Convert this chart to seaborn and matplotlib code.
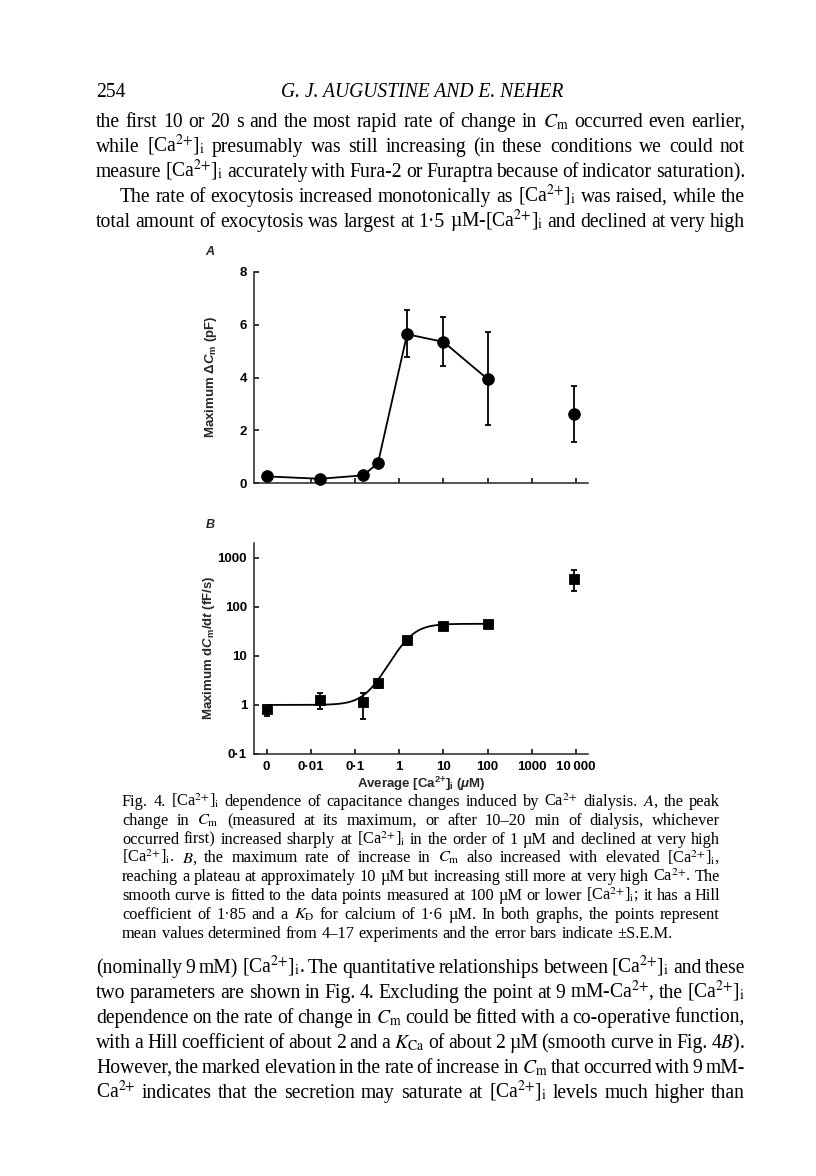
import numpy as np
import pandas as pd
import seaborn as sns
import matplotlib.pyplot as plt

# [Ca2+]i in uM; 0 is drawn at the 0.001 tick position
conc = [0, 0.016, 0.155, 0.33, 1.5, 10, 100, 9000]
tick_pos = [1e-3, 1e-2, 1e-1, 1, 10, 100, 1000, 1e4]
tick_labels = ['0', '0·01', '0·1', '1', '10', '100', '1000', '10\u2009000']

# panel A: maximum delta Cm (pF)
dcm_mean = [0.25, 0.16, 0.29, 0.76, 5.64, 5.35, 3.94, 2.62]
dcm_hi = [np.nan, np.nan, np.nan, np.nan, 6.55, 6.30, 5.74, 3.69]
dcm_lo = [np.nan, np.nan, np.nan, np.nan, 4.76, 4.45, 2.20, 1.55]

# panel B: maximum dCm/dt (fF/s)
rate_mean = [0.83, 1.26, 1.17, 2.76, 21, 41, 45, 372]
rate_hi = [0.95, 1.72, 1.78, 3.2, np.nan, np.nan, np.nan, 560]
rate_lo = [0.60, 0.82, 0.52, 2.2, np.nan, np.nan, np.nan, 209]

# Hill fit from the legend (points <= 100 uM)
hill_n = 1.85
hill_kd = 1.6
rate_base = 1.0
rate_top = 45.0

CA = "[Ca$^{2{+}}$]$_\\mathrm{i}$"
top_lines = [
    "the first 10 or 20 s and the most rapid rate of change in $C_\\mathrm{m}$ occurred even earlier,",
    f"while {CA} presumably was still increasing (in these conditions we could not",
    f"measure {CA} accurately with Fura-2 or Furaptra because of indicator saturation).",
    f"The rate of exocytosis increased monotonically as {CA} was raised, while the",
    f"total amount of exocytosis was largest at 1·5 µM-{CA} and declined at very high",
]
caption_lines = [
    f"Fig. 4. {CA} dependence of capacitance changes induced by Ca$^{{2{{+}}}}$ dialysis. $A$, the peak",
    "change in $C_\\mathrm{m}$ (measured at its maximum, or after 10–20 min of dialysis, whichever",
    f"occurred first) increased sharply at {CA} in the order of 1 µM and declined at very high",
    f"{CA}. $B$, the maximum rate of increase in $C_\\mathrm{{m}}$ also increased with elevated {CA},",
    "reaching a plateau at approximately 10 µM but increasing still more at very high Ca$^{2{+}}$. The",
    f"smooth curve is fitted to the data points measured at 100 µM or lower {CA}; it has a Hill",
    "coefficient of 1·85 and a $K_\\mathrm{D}$ for calcium of 1·6 µM. In both graphs, the points represent",
    "mean values determined from 4–17 experiments and the error bars indicate ±S.E.M.",
]
bottom_lines = [
    f"(nominally 9 mM) {CA}. The quantitative relationships between {CA} and these",
    f"two parameters are shown in Fig. 4. Excluding the point at 9 mM-Ca$^{{2{{+}}}}$, the {CA}",
    "dependence on the rate of change in $C_\\mathrm{m}$ could be fitted with a co-operative function,",
    "with a Hill coefficient of about 2 and a $K_\\mathrm{Ca}$ of about 2 µM (smooth curve in Fig. 4$B$).",
    "However, the marked elevation in the rate of increase in $C_\\mathrm{m}$ that occurred with 9 mM-",
    f"Ca$^{{2{{+}}}}$ indicates that the secretion may saturate at {CA} levels much higher than",
]

sns.set_style('ticks')
plt.rcParams['font.family'] = ['Liberation Sans', 'DejaVu Sans']
plt.rcParams['mathtext.fontset'] = 'custom'
plt.rcParams['mathtext.rm'] = 'Liberation Sans:bold'
plt.rcParams['mathtext.it'] = 'Liberation Sans:bold:italic'
plt.rcParams['mathtext.bf'] = 'Liberation Sans:bold'
plt.rcParams['axes.linewidth'] = 1.1

W, H = 816, 1176
fig = plt.figure(figsize=(W / 100, H / 100), dpi=100)
fig.patch.set_facecolor('white')


def fx(x):
    return x / W


def fy(y):
    return 1 - y / H


xplot = np.where(np.array(conc) == 0, 1e-3, conc)
xlim = (10 ** -3.287, 10 ** 4.27)

df = pd.DataFrame({'conc': xplot, 'dcm': dcm_mean, 'rate': rate_mean})

axA = fig.add_axes([fx(254), fy(483), fx(334), 211 / H])
axB = fig.add_axes([fx(254), fy(754), fx(334), 211 / H])

# ---- panel A
sns.lineplot(data=df.iloc[:7], x='conc', y='dcm', color='black', lw=1.3, ax=axA)
axA.errorbar(xplot, dcm_mean,
             yerr=[np.array(dcm_mean) - np.array(dcm_lo), np.array(dcm_hi) - np.array(dcm_mean)],
             fmt='none', ecolor='black', elinewidth=1.3, capsize=2.5, capthick=1.3)
sns.scatterplot(data=df, x='conc', y='dcm', marker='o', s=70, color='black',
                edgecolor='black', ax=axA, zorder=4, clip_on=False)
axA.set_xscale('log')
axA.set_xlim(*xlim)
axA.set_ylim(0, 8)
axA.set_xticks(tick_pos)
axA.set_xticklabels([])
axA.set_yticks([0, 2, 4, 6, 8])
axA.set_yticklabels(['0', '2', '4', '6', '8'], fontweight='bold')

# ---- panel B
xs = np.logspace(-3, 2, 300)
fit = rate_base + (rate_top - rate_base) * xs ** hill_n / (xs ** hill_n + hill_kd ** hill_n)
sns.lineplot(x=xs, y=fit, color='black', lw=1.3, ax=axB)
axB.errorbar(xplot, rate_mean,
             yerr=[np.array(rate_mean) - np.array(rate_lo), np.array(rate_hi) - np.array(rate_mean)],
             fmt='none', ecolor='black', elinewidth=1.3, capsize=2.5, capthick=1.3)
sns.scatterplot(data=df, x='conc', y='rate', marker='s', s=55, color='black',
                edgecolor='black', ax=axB, zorder=4, clip_on=False)
axB.set_xscale('log')
axB.set_yscale('log')
axB.set_xlim(*xlim)
axB.set_ylim(0.1, 10 ** 3.3)
axB.set_xticks(tick_pos)
axB.set_xticklabels(tick_labels, fontweight='bold')
axB.set_yticks([0.1, 1, 10, 100, 1000])
axB.set_yticklabels(['0·1', '1', '10', '100', '1000'], fontweight='bold')

for ax in (axA, axB):
    ax.minorticks_off()
    ax.set_xlabel('')
    ax.set_ylabel('')
    sns.despine(ax=ax)
    ax.tick_params(direction='in', length=3.5, width=1.1, labelsize=9.5, pad=5, colors='black')
    ax.set_facecolor('white')

fig.text(fx(210), fy(252), 'A', fontsize=9, fontstyle='italic', fontweight='bold', ha='center', va='center')
fig.text(fx(210), fy(525), 'B', fontsize=9, fontstyle='italic', fontweight='bold', ha='center', va='center')
fig.text(fx(211), fy(377), 'Maximum Δ$C_\\mathrm{m}$ (pF)', rotation=90, fontsize=9.5,
         fontweight='bold', ha='center', va='center', math_fontfamily='custom')
fig.text(fx(209), fy(648), 'Maximum d$C_\\mathrm{m}$/d$t$ (fF/s)', rotation=90, fontsize=9.5,
         fontweight='bold', ha='center', va='center', math_fontfamily='custom')
fig.text(fx(421), fy(784), 'Average [Ca$^{2{+}}$]$_\\mathrm{i}$ ($\\mu$M)', fontsize=9.5,
         fontweight='bold', ha='center', va='center', math_fontfamily='custom')

# ---- page text, justified word by word
renderer = fig.canvas.get_renderer()
serif = dict(family='Liberation Serif', math_fontfamily='stix', color='black')


def word_width(word, size):
    t = fig.text(0, 0, word, fontsize=size, **serif)
    w = t.get_window_extent(renderer).width
    t.remove()
    return w


def set_block(lines, x0, x1, base, step, indents=None, ragged_last=False, size=None, min_gap=0.75):
    indents = indents or {}
    if size is None:
        sp10 = word_width('a a', 10) - word_width('aa', 10)
        sizes = []
        for i, line in enumerate(lines):
            if ragged_last and i == len(lines) - 1:
                continue
            words = line.split(' ')
            wsum = sum(word_width(w, 10) for w in words)
            need = wsum + min_gap * sp10 * (len(words) - 1)
            sizes.append(10 * (x1 - x0 - indents.get(i, 0)) / need)
        size = min(sizes)
    space = word_width('a a', size) - word_width('aa', size)
    for i, line in enumerate(lines):
        words = line.split(' ')
        widths = [word_width(w, size) for w in words]
        left = x0 + indents.get(i, 0)
        if ragged_last and i == len(lines) - 1:
            gap = space
        else:
            gap = (x1 - left - sum(widths)) / (len(words) - 1)
        x = left
        y = base + i * step
        for w, wd in zip(words, widths):
            fig.text(fx(x), fy(y), w, fontsize=size, ha='left', va='baseline', **serif)
            x += wd + gap
    return size


body_size = set_block(top_lines, 96, 745, 127, 25, indents={3: 24})
set_block(bottom_lines, 96, 745, 973, 25, size=body_size)
set_block(caption_lines, 122, 720, 806, 18.8, ragged_last=True, min_gap=1.0)

fig.text(fx(96), fy(97), '254', fontsize=body_size, ha='left', va='baseline', **serif)
fig.text(fx(422), fy(97), 'G. J. AUGUSTINE AND E. NEHER', fontsize=body_size, fontstyle='italic',
         ha='center', va='baseline', **serif)

fig.savefig('out.png', dpi=100, facecolor='white')
